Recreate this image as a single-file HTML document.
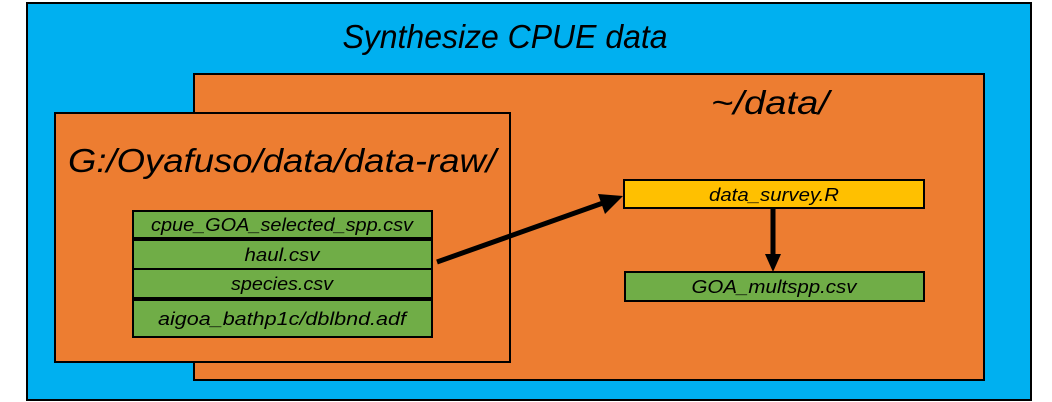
<!DOCTYPE html>
<html><head><style>body{margin:0;background:#fff}svg{display:block}</style></head><body>
<svg width="1052" height="402" xmlns="http://www.w3.org/2000/svg" font-family="Liberation Sans, sans-serif" font-style="italic">
<rect x="27" y="3" width="1004" height="397" fill="#00b0f0" stroke="#000" stroke-width="2"/>
<text x="505" y="48" font-size="33" text-anchor="middle" textLength="325" lengthAdjust="spacingAndGlyphs">Synthesize CPUE data</text>
<rect x="194" y="74" width="790" height="306" fill="#ed7d31" stroke="#000" stroke-width="2"/>
<text x="770" y="114" font-size="33" text-anchor="middle" textLength="118" lengthAdjust="spacingAndGlyphs">~/data/</text>
<rect x="55" y="113" width="455" height="249" fill="#ed7d31" stroke="#000" stroke-width="2"/>
<text x="282" y="172" font-size="33" text-anchor="middle" textLength="428" lengthAdjust="spacingAndGlyphs">G:/Oyafuso/data/data-raw/</text>
<g stroke="#000" stroke-width="2" fill="#70ad47">
<rect x="133" y="211" width="299" height="27"/>
<rect x="133" y="240" width="299" height="29"/>
<rect x="133" y="269" width="299" height="29"/>
<rect x="133" y="300" width="299" height="37"/>
</g>
<g font-size="18" text-anchor="middle">
<text x="282" y="231" textLength="262" lengthAdjust="spacingAndGlyphs">cpue_GOA_selected_spp.csv</text>
<text x="282" y="261" textLength="75" lengthAdjust="spacingAndGlyphs">haul.csv</text>
<text x="282" y="290" textLength="102" lengthAdjust="spacingAndGlyphs">species.csv</text>
<text x="282" y="325" textLength="248" lengthAdjust="spacingAndGlyphs">aigoa_bathp1c/dblbnd.adf</text>
</g>
<rect x="624" y="180" width="300" height="28" fill="#ffc000" stroke="#000" stroke-width="2"/>
<text x="774" y="201" font-size="18" text-anchor="middle" textLength="130" lengthAdjust="spacingAndGlyphs">data_survey.R</text>
<rect x="625" y="272" width="299" height="29" fill="#70ad47" stroke="#000" stroke-width="2"/>
<text x="774" y="293" font-size="18" text-anchor="middle" textLength="165" lengthAdjust="spacingAndGlyphs">GOA_multspp.csv</text>
<line x1="437" y1="262" x2="603" y2="203" stroke="#000" stroke-width="5"/>
<polygon points="623,196 598,194 605,214" fill="#000"/>
<line x1="773" y1="208" x2="773" y2="256" stroke="#000" stroke-width="5"/>
<polygon points="765,254 781,254 773,272" fill="#000"/>
</svg>
</body></html>
